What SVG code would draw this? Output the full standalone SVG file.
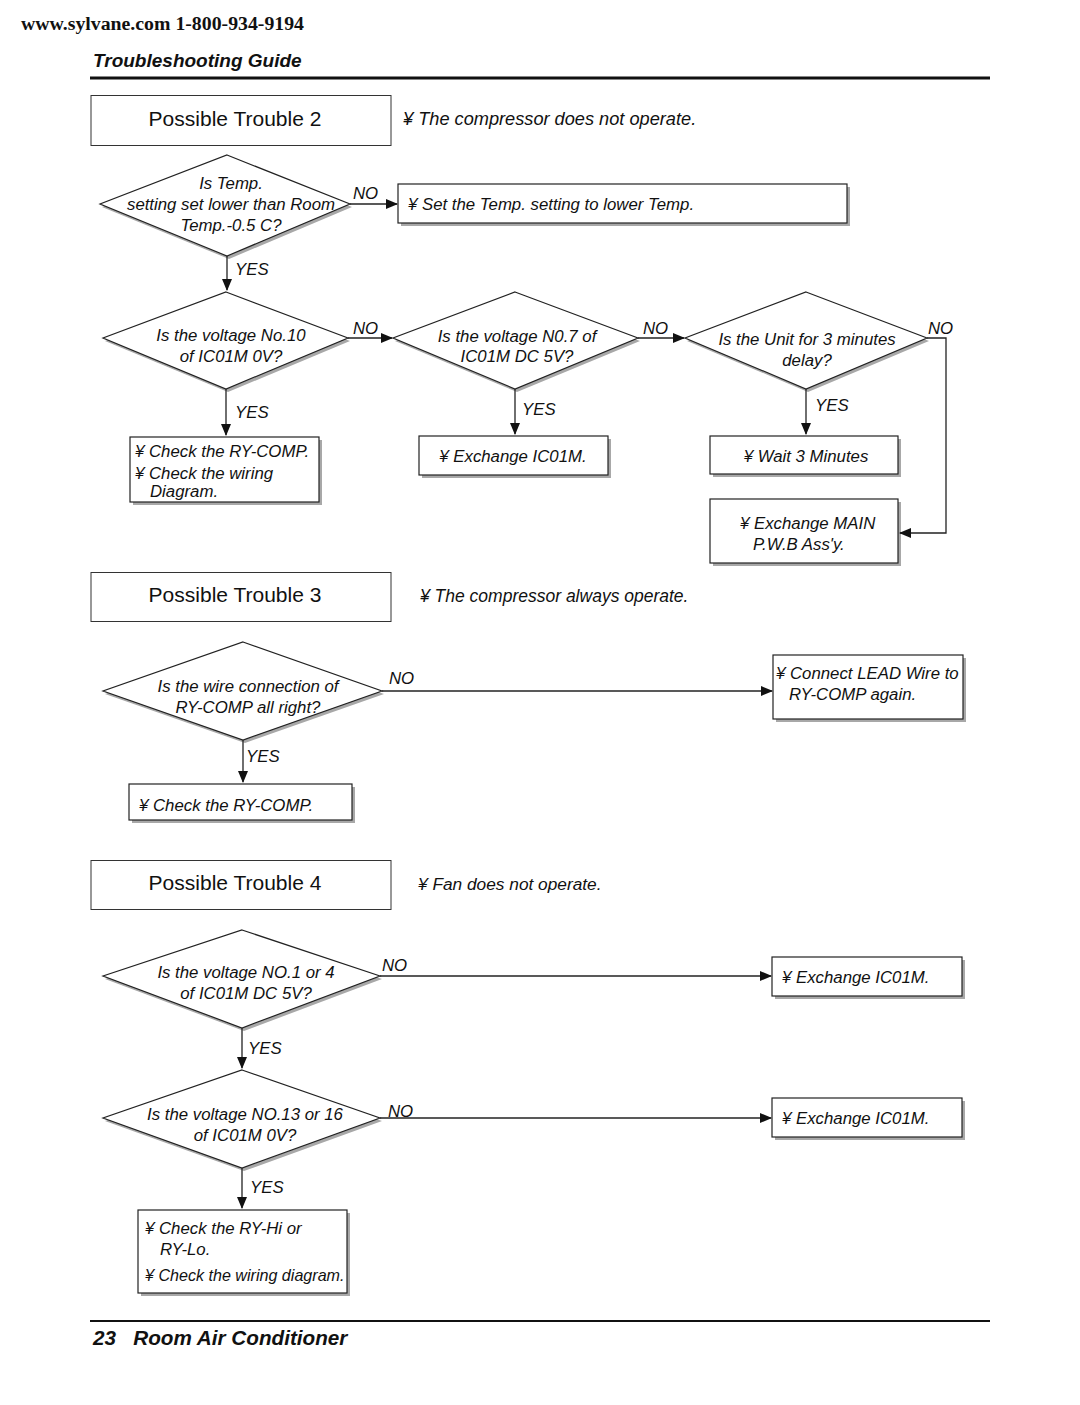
<svg xmlns="http://www.w3.org/2000/svg" width="1080" height="1405" viewBox="0 0 1080 1405">
<style>
.t{font-family:"Liberation Sans",Arial,sans-serif;font-style:italic;font-size:16.8px;fill:#111}
.h{font-family:"Liberation Sans",Arial,sans-serif;font-size:21px;fill:#111}
.nd{fill:#fff;stroke:#222;stroke-width:1.2}
.sh{fill:#a8a8a8;stroke:none}
.ln{fill:none;stroke:#222;stroke-width:1.3}
.tb{fill:#fff;stroke:#333;stroke-width:1}
</style>
<defs>
<marker id="ar" markerWidth="12" markerHeight="10" refX="11" refY="5" orient="auto" markerUnits="userSpaceOnUse"><path d="M0,0 L12,5 L0,10 Z" fill="#111"/></marker>
</defs>
<rect width="1080" height="1405" fill="#fff"/>
<text x="21" y="30" font-family="Liberation Serif,serif" font-weight="bold" font-size="19.8" fill="#111">www.sylvane.com 1-800-934-9194</text>
<text x="93" y="67" font-family="Liberation Sans,Arial,sans-serif" font-weight="bold" font-style="italic" font-size="19" fill="#111">Troubleshooting Guide</text>
<rect x="90" y="76.5" width="900" height="3" fill="#111"/>

<g id="pt2"><rect class="tb" x="91" y="95.5" width="300" height="50"/><text class="h" x="235" y="126" text-anchor="middle">Possible Trouble 2</text></g>
<text class="t" x="403" y="125" font-size="18.2" style="font-size:18.2px" xml:space="preserve">¥ The compressor does not operate.</text>

<g id="d1"><polygon class="sh" points="229,158 352,207 229,259 102,207"/><polygon class="nd" points="227,155 350,204 227,256 100,204"/>
<text class="t" text-anchor="middle"><tspan x="231" y="189">Is Temp.</tspan><tspan x="231" y="210">setting set lower than Room</tspan><tspan x="231" y="231">Temp.-0.5 C?</tspan></text></g>
<g id="b1"><rect class="sh" x="401" y="187" width="449" height="39"/><rect class="nd" x="398" y="184" width="449" height="39"/><text class="t" x="408" y="210" xml:space="preserve">¥ Set the Temp. setting to lower Temp.</text></g>

<g id="d2"><polygon class="sh" points="228,295 350,341 228,392 105,341"/><polygon class="nd" points="226,292 348,338 226,389 103,338"/>
<text class="t" text-anchor="middle"><tspan x="231" y="341">Is the voltage No.10</tspan><tspan x="231" y="362">of IC01M 0V?</tspan></text></g>
<g id="d3"><polygon class="sh" points="517,295 640,341 517,392 395,341"/><polygon class="nd" points="515,292 638,338 515,389 393,338"/>
<text class="t" text-anchor="middle"><tspan x="517" y="342">Is the voltage N0.7 of</tspan><tspan x="517" y="362">IC01M DC 5V?</tspan></text></g>
<g id="d4"><polygon class="sh" points="808,295 929,341 808,392 687,341"/><polygon class="nd" points="806,292 927,338 806,389 685,338"/>
<text class="t" text-anchor="middle"><tspan x="807" y="345">Is the Unit for 3 minutes</tspan><tspan x="807" y="366">delay?</tspan></text></g>

<g id="b2"><rect class="sh" x="133" y="440" width="189" height="65"/><rect class="nd" x="130" y="437" width="189" height="65"/>
<text class="t" xml:space="preserve"><tspan x="135" y="457">¥ Check the RY-COMP.</tspan><tspan x="135" y="479">¥ Check the wiring</tspan><tspan x="150" y="497">Diagram.</tspan></text></g>
<g id="b3"><rect class="sh" x="422" y="439" width="189" height="39"/><rect class="nd" x="419" y="436" width="189" height="39"/><text class="t" x="513" y="462" text-anchor="middle" xml:space="preserve">¥ Exchange IC01M.</text></g>
<g id="b4"><rect class="sh" x="713" y="439" width="188" height="38"/><rect class="nd" x="710" y="436" width="188" height="38"/><text class="t" x="806" y="462" text-anchor="middle" xml:space="preserve">¥ Wait 3 Minutes</text></g>
<g id="b5"><rect class="sh" x="713" y="502" width="188" height="64"/><rect class="nd" x="710" y="499" width="188" height="64"/>
<text class="t" xml:space="preserve"><tspan x="740" y="529">¥ Exchange MAIN</tspan><tspan x="753" y="550">P.W.B Ass'y.</tspan></text></g>

<g id="pt3"><rect class="tb" x="91" y="572.5" width="300" height="49"/><text class="h" x="235" y="602" text-anchor="middle">Possible Trouble 3</text></g>
<text class="t" x="420" y="602" style="font-size:17.5px" xml:space="preserve">¥ The compressor always operate.</text>

<g id="d5"><polygon class="sh" points="245,645 384,694 245,743 105,694"/><polygon class="nd" points="243,642 382,691 243,740 103,691"/>
<text class="t" text-anchor="middle"><tspan x="248" y="692">Is the wire connection of</tspan><tspan x="248" y="713">RY-COMP all right?</tspan></text></g>
<g id="b6"><rect class="sh" x="776" y="658" width="190" height="64"/><rect class="nd" x="773" y="655" width="190" height="64"/>
<text class="t" xml:space="preserve"><tspan x="776" y="679">¥ Connect LEAD Wire to</tspan><tspan x="789" y="700">RY-COMP again.</tspan></text></g>
<g id="b7"><rect class="sh" x="132" y="787" width="223" height="36"/><rect class="nd" x="129" y="784" width="223" height="36"/><text class="t" x="139" y="811" xml:space="preserve">¥ Check the RY-COMP.</text></g>

<g id="pt4"><rect class="tb" x="91" y="860.5" width="300" height="49"/><text class="h" x="235" y="890" text-anchor="middle">Possible Trouble 4</text></g>
<text class="t" x="418" y="890" style="font-size:17.3px" xml:space="preserve">¥ Fan does not operate.</text>

<g id="d6"><polygon class="sh" points="244,933 382,979 244,1031 105,979"/><polygon class="nd" points="242,930 380,976 242,1028 103,976"/>
<text class="t" text-anchor="middle"><tspan x="246" y="978">Is the voltage NO.1 or 4</tspan><tspan x="246" y="999">of IC01M DC 5V?</tspan></text></g>
<g id="b8"><rect class="sh" x="775" y="960" width="190" height="39"/><rect class="nd" x="772" y="957" width="190" height="39"/><text class="t" x="782" y="983" xml:space="preserve">¥ Exchange IC01M.</text></g>
<g id="d7"><polygon class="sh" points="244,1073 382,1121 244,1171 105,1121"/><polygon class="nd" points="242,1070 380,1118 242,1168 103,1118"/>
<text class="t" text-anchor="middle"><tspan x="245" y="1120">Is the voltage NO.13 or 16</tspan><tspan x="245" y="1141">of IC01M 0V?</tspan></text></g>
<g id="b9"><rect class="sh" x="775" y="1101" width="190" height="39"/><rect class="nd" x="772" y="1098" width="190" height="39"/><text class="t" x="782" y="1124" xml:space="preserve">¥ Exchange IC01M.</text></g>
<g id="b10"><rect class="sh" x="141" y="1213" width="209" height="83"/><rect class="nd" x="138" y="1210" width="209" height="83"/>
<text class="t" xml:space="preserve"><tspan x="145" y="1234">¥ Check the RY-Hi or</tspan><tspan x="160" y="1255">RY-Lo.</tspan><tspan x="145" y="1281" style="font-size:16.1px">¥ Check the wiring diagram.</tspan></text></g>

<g id="connectors">
<line class="ln" x1="350" y1="204" x2="397" y2="204" marker-end="url(#ar)"/>
<text class="t" x="353" y="199">NO</text>
<line class="ln" x1="227" y1="256" x2="227" y2="290" marker-end="url(#ar)"/>
<text class="t" x="235" y="275">YES</text>
<line class="ln" x1="348" y1="338" x2="392" y2="338" marker-end="url(#ar)"/>
<text class="t" x="353" y="334">NO</text>
<line class="ln" x1="638" y1="338" x2="684" y2="338" marker-end="url(#ar)"/>
<text class="t" x="643" y="334">NO</text>
<polyline class="ln" points="927,338 946,338 946,533 900,533" marker-end="url(#ar)"/>
<text class="t" x="928" y="334">NO</text>
<line class="ln" x1="226" y1="389" x2="226" y2="435" marker-end="url(#ar)"/>
<text class="t" x="235" y="418">YES</text>
<line class="ln" x1="515" y1="389" x2="515" y2="434" marker-end="url(#ar)"/>
<text class="t" x="522" y="415">YES</text>
<line class="ln" x1="806" y1="389" x2="806" y2="434" marker-end="url(#ar)"/>
<text class="t" x="815" y="411">YES</text>
<line class="ln" x1="382" y1="691" x2="772" y2="691" marker-end="url(#ar)"/>
<text class="t" x="389" y="684">NO</text>
<line class="ln" x1="243" y1="740" x2="243" y2="782" marker-end="url(#ar)"/>
<text class="t" x="246" y="762">YES</text>
<line class="ln" x1="380" y1="976" x2="771" y2="976" marker-end="url(#ar)"/>
<text class="t" x="382" y="971">NO</text>
<line class="ln" x1="242" y1="1028" x2="242" y2="1068" marker-end="url(#ar)"/>
<text class="t" x="248" y="1054">YES</text>
<line class="ln" x1="380" y1="1118" x2="771" y2="1118" marker-end="url(#ar)"/>
<text class="t" x="388" y="1117">NO</text>
<line class="ln" x1="242" y1="1168" x2="242" y2="1208" marker-end="url(#ar)"/>
<text class="t" x="250" y="1193">YES</text>
</g>

<rect x="90" y="1320" width="900" height="2" fill="#111"/>
<text x="93" y="1345" font-family="Liberation Sans,Arial,sans-serif" font-weight="bold" font-style="italic" font-size="20.7" fill="#111" xml:space="preserve">23   Room Air Conditioner</text>
</svg>
